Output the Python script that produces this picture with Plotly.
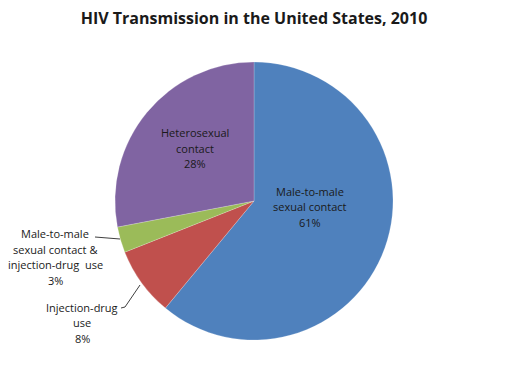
import plotly.graph_objects as go

labels = ["Male-to-male<br>sexual contact", "Injection-drug<br>use",
          "Male-to-male<br>sexual contact &<br>injection-drug  use", "Heterosexual<br>contact"]
values = [61, 8, 3, 28]
colors = ["#4F81BD", "#C0504D", "#9BBB59", "#8064A2"]

# page has an 8px body margin, so the figure is drawn 8px in from the top-left
OFF = 8
W, H = 506 - OFF, 370 - OFF
def px(x): return (x - OFF) / W
def py(y): return 1 - (y - OFF) / H

fig = go.Figure(go.Pie(
    labels=labels, values=values, sort=False, direction="clockwise", rotation=0,
    marker=dict(colors=colors, line=dict(color="rgba(255,255,255,0.4)", width=0.5)),
    textinfo="none", hoverinfo="label+percent", showlegend=False,
    domain=dict(x=[px(254 - 139), px(254 + 139)], y=[py(201 + 139), py(201 - 139)]),
))

# label anchors (page px): centre x, first-line y
anchors = [(310, 191), (82, 307), (55, 233.5), (195, 132.5)]
LINE = 15.5
for (cx, y0), lab, v in zip(anchors, labels, values):
    for i, line in enumerate(lab.split("<br>") + [f"{v}%"]):
        fig.add_annotation(xref="paper", yref="paper", showarrow=False, xanchor="center", yanchor="middle",
                           x=px(cx), y=py(y0 + i * LINE), text=line,
                           font=dict(family="Open Sans", size=11, color="#1a1a1a"))

leaders = [
    [(95, 237), (120, 239)],
    [(121, 308), (125, 307), (140, 285)],
]
for pts in leaders:
    for (x0, y0), (x1, y1) in zip(pts[:-1], pts[1:]):
        fig.add_shape(type="line", xref="paper", yref="paper", x0=px(x0), y0=py(y0), x1=px(x1), y1=py(y1),
                      line=dict(color="#404040", width=1))

fig.update_layout(
    width=W, height=H, margin=dict(l=0, r=0, t=0, b=0),
    paper_bgcolor="white", plot_bgcolor="white",
    title=dict(text="<b>HIV Transmission in the United States, 2010</b>", x=px(254), xanchor="center",
               y=py(18), yanchor="middle", font=dict(family="Open Sans", size=16, color="#1a1a1a")),
)
fig.write_html("out.html")
